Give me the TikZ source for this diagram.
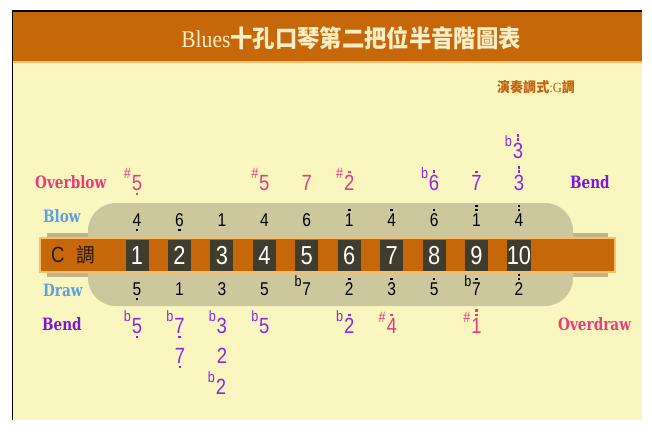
\documentclass[tikz,border=0pt]{standalone}
\usepackage{fontspec}
\setmainfont{Liberation Sans}[FakeStretch=0.84]
\newfontfamily\serifn{Liberation Serif}[FakeStretch=0.9]
\newfontfamily\labfont{DejaVu Serif}[FakeStretch=0.8]
\newfontfamily\cjk{Noto Sans CJK TC}[FakeStretch=0.93]
\definecolor{hdr}{RGB}{198,104,10}
\definecolor{paper}{RGB}{250,246,192}
\definecolor{bodyc}{RGB}{204,199,156}
\definecolor{stripc}{RGB}{188,182,138}
\definecolor{barrim}{RGB}{248,190,110}
\definecolor{holebg}{RGB}{64,60,46}
\definecolor{pinknote}{RGB}{232,60,122}
\definecolor{purplenote}{RGB}{140,40,220}
\definecolor{bendlab}{RGB}{125,20,215}
\definecolor{bluelab}{RGB}{92,160,228}
\definecolor{titletxt}{RGB}{250,238,198}
\definecolor{keytxt}{RGB}{196,96,10}
\newcommand\onedot{\rule{2.6pt}{2.6pt}}
\newcommand\twodots{\vbox{\offinterlineskip\hbox{\onedot}\kern1.6pt\hbox{\onedot}}}
\tikzset{
  hole/.style={fill=holebg, minimum width=23pt, minimum height=31pt, inner sep=0pt,
    text=white, font=\fontsize{26}{26}\selectfont},
  lab/.style={font=\labfont\bfseries\fontsize{17}{17}\selectfont, inner sep=0pt, anchor=west},
  tone/.style={inner sep=0pt, font=\fontsize{18.5}{18.5}\selectfont},
  bnote/.style={inner sep=0pt, font=\fontsize{22}{22}\selectfont},
  dotl/.style={inner sep=0pt, label distance=1.8pt},
  nomark/.style={},
  octup/.style={label={[dotl]above:\onedot}},
  octupup/.style={label={[dotl]above:\twodots}},
  octdn/.style={label={[dotl]below:\onedot}},
  accl/.style={inner sep=0pt, anchor=south east, yshift=-4pt, xshift=-0.5pt,
    font=\fontsize{15}{15}\selectfont},
  flatacc/.style={label={[accl]north west:b}},
  sharpacc/.style={label={[accl]north west:\#}},
}
\begin{document}
\begin{tikzpicture}[x=1pt,y=-1pt]
    \useasboundingbox (0,0) rectangle (652,431);
    \fill[white] (0,0) rectangle (652,431);
    \fill[paper] (13,11) rectangle (642,420);
    \fill[hdr] (13,11) rectangle (642,62);
    \draw[barrim, line width=1.2pt] (13,62) -- (642,62);
    \draw[line width=1.5pt] (12.5,420) -- (12.5,11) -- (642,11);
    \node[text=titletxt, inner sep=0pt] (title) at (351,38)
        {{\serifn\fontsize{24}{24}\selectfont Blues}{\cjk\bfseries\fontsize{24}{24}\selectfont 十孔口琴第二把位半音階圖表}};
    \node[text=keytxt, inner sep=0pt, anchor=west] (mode) at (497,87)
        {\cjk\bfseries\fontsize{14}{14}\selectfont 演奏調式{\mdseries\serifn :G}調};
    \fill[stripc] (47,233) rectangle (608,277);
    \fill[bodyc, rounded corners=28pt] (88,203) rectangle (573,306);
    \draw[barrim, fill=hdr, line width=2pt] (40,238) rectangle (615,272);
    \node[anchor=west, inner sep=0pt, text={rgb,255:red,40;green,25;blue,10}] (key) at (51,255)
        {\fontsize{22}{22}\selectfont C\hspace{12pt}{\cjk\fontsize{20}{20}\selectfont 調}};
    \foreach \i in {1,...,10}
        \node[hole] (h\i) at ({137+42.44*(\i-1)},255.5) {\i};
    \foreach \d/\o [count=\i] in {4/octdn,6/octdn,1/nomark,4/nomark,6/nomark,1/octup,4/octup,6/octup,1/octupup,4/octupup}
        \node[tone,\o] (blow\i) at ({137+42.44*(\i-1)},220) {\d};
    \foreach \a/\d/\o [count=\i] in {nomark/5/octdn,nomark/1/nomark,nomark/3/nomark,nomark/5/nomark,flatacc/7/nomark,nomark/2/octup,nomark/3/octup,nomark/5/octup,flatacc/7/octup,nomark/2/octupup}
        \node[tone,\a,\o] (draw\i) at ({137+42.44*(\i-1)},289) {\d};
    \begin{scope}[text=pinknote]
        \foreach \h/\a/\d/\o in {1/sharpacc/5/octdn,4/sharpacc/5/nomark,5/nomark/7/nomark,6/sharpacc/2/octup}
            \node[bnote,\a,\o] (ob\h) at ({137+42.44*(\h-1)},183) {\d};
        \foreach \h/\a/\d/\o in {7/sharpacc/4/octup,9/sharpacc/1/octupup}
            \node[bnote,\a,\o] (od\h) at ({137+42.44*(\h-1)},326) {\d};
    \end{scope}
    \begin{scope}[text=purplenote]
        \foreach \h/\a/\d/\o in {8/flatacc/6/octup,9/nomark/7/octup,10/nomark/3/octupup}
            \node[bnote,\a,\o] (bb\h) at ({137+42.44*(\h-1)},183) {\d};
        \node[bnote,flatacc,octupup] (bbb10) at (518,151) {3};
        \foreach \h/\a/\d/\o in {1/flatacc/5/octdn,2/flatacc/7/octdn,3/flatacc/3/nomark,4/flatacc/5/nomark,6/flatacc/2/octup}
            \node[bnote,\a,\o] (db\h) at ({137+42.44*(\h-1)},326) {\d};
        \node[bnote,octdn] (dbb2) at (180,356) {7};
        \node[bnote] (dbb3) at (222,356) {2};
        \node[bnote,flatacc] (dbbb3) at (221,387) {2};
    \end{scope}
    \node[lab, text=pinknote] (overblow) at (35,182) {Overblow};
    \node[lab, text=bluelab] (blowlab) at (43,216) {Blow};
    \node[lab, text=bluelab] (drawlab) at (43,290) {Draw};
    \node[lab, text=bendlab] (bendl) at (42,324) {Bend};
    \node[lab, text=bendlab] (bendr) at (570,182) {Bend};
    \node[lab, text=pinknote] (overdraw) at (558,324) {Overdraw};
\end{tikzpicture}
\end{document}
